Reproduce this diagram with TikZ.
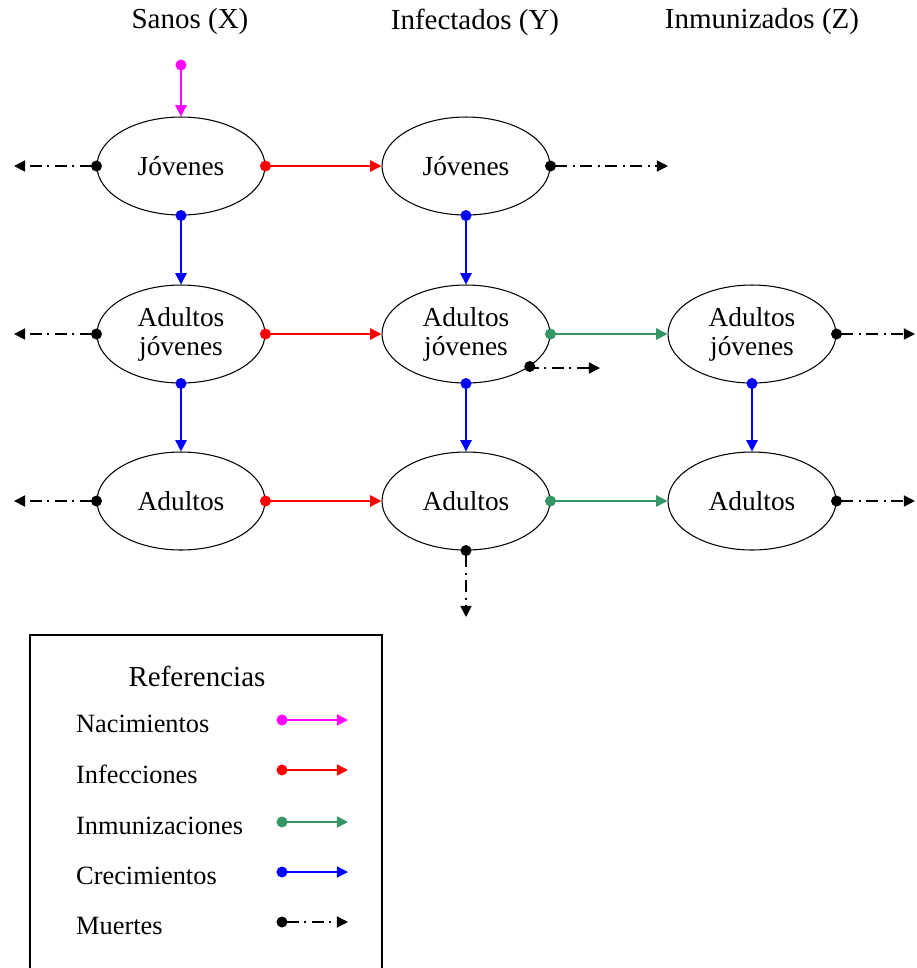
\documentclass[tikz,border=0pt]{standalone}
\usepackage{fontspec}
\setmainfont{Liberation Serif}
\usetikzlibrary{shapes.geometric,arrows.meta,positioning}
\definecolor{verde}{RGB}{52,150,100}
\definecolor{rosa}{RGB}{255,0,255}
\definecolor{rojo}{RGB}{255,0,0}
\definecolor{azul}{RGB}{0,0,255}

\tikzset{
  estado/.style={ellipse, draw, line width=0.6pt, minimum width=3.36cm, minimum height=1.96cm, inner sep=0pt, align=center, fill=white, font=\fontsize{15.6}{16.5}\selectfont},
  titulo/.style={font=\fontsize{16.5}{18}\selectfont},
  flujo/.style={line width=0.9pt, shorten <=-3.1pt, {Circle[length=6.2pt]}-{Triangle[length=6.4pt,width=6.4pt]}},
  nacim/.style={flujo, rosa},
  infec/.style={flujo, rojo},
  inmun/.style={flujo, verde},
  crec/.style={flujo, azul},
  muerte/.style={flujo, black, dash pattern=on 7pt off 3pt on 1.2pt off 3pt},
}

\begin{document}
\begin{tikzpicture}[x=0.02cm, y=-0.02cm, font=\fontsize{15}{16.5}\selectfont]
    \useasboundingbox (0,0) rectangle (917,968);

    % Titulos
    \node[titulo] (tx) at (190,22) {Sanos (X)};
    \node[titulo] (ty) at (475,22) {Infectados (Y)};
    \node[titulo] (tz) at (762,22) {Inmunizados (Z)};

    % Sanos
    \node[estado] (sj) at (181,166) {J\'ovenes};
    \node[estado] (saj) at (181,334) {Adultos\\j\'ovenes};
    \node[estado] (sa) at (181,501) {Adultos};

    % Infectados
    \node[estado] (ij) at (466,166) {J\'ovenes};
    \node[estado] (iaj) at (466,334) {Adultos\\j\'ovenes};
    \node[estado] (ia) at (466,501) {Adultos};

    % Inmunizados
    \node[estado] (maj) at (752,334) {Adultos\\j\'ovenes};
    \node[estado] (ma) at (752,501) {Adultos};

    % extremos libres
    \coordinate (nac) at (181,65);
    \coordinate (m1) at (14,166);
    \coordinate (m2) at (14,334);
    \coordinate (m3) at (14,501);
    \coordinate (m4) at (668,166);
    \coordinate (m5) at (600,368);
    \coordinate (m6) at (466,617);
    \coordinate (m7) at (915,334);
    \coordinate (m8) at (915,501);

    \draw[nacim] (nac) -- (sj);

    \draw[infec] (sj) -- (ij);
    \draw[infec] (saj) -- (iaj);
    \draw[infec] (sa) -- (ia);

    \draw[inmun] (iaj) -- (maj);
    \draw[inmun] (ia) -- (ma);

    \draw[crec] (sj) -- (saj);
    \draw[crec] (saj) -- (sa);
    \draw[crec] (ij) -- (iaj);
    \draw[crec] (iaj) -- (ia);
    \draw[crec] (maj) -- (ma);

    \draw[muerte] (sj.west) -- (m1);
    \draw[muerte] (saj.west) -- (m2);
    \draw[muerte] (sa.west) -- (m3);
    \draw[muerte] (ij.east) -- (m4);
    \draw[muerte] (iaj.-27) -- (m5 -| iaj.-27) -- (m5);
    \draw[muerte] (ia.south) -- (m6);
    \draw[muerte] (maj.east) -- (m7);
    \draw[muerte] (ma.east) -- (m8);

    % Referencias
    \draw[line width=0.6pt] (30,968) -- (30,635) -- (382,635) -- (382,968);
    \node[titulo] (ref) at (197,676) {Referencias};
    \foreach \y/\txt/\estilo [count=\i] in {724/Nacimientos/nacim, 774/Infecciones/infec, 826/Inmunizaciones/inmun, 876/Crecimientos/crec, 926/Muertes/muerte} {
        \node[anchor=west] (r\i) at (70,\y) {\txt};
        \coordinate (ra\i) at (282,\y-4);
        \coordinate (rb\i) at (348,\y-4);
        \draw[\estilo] (ra\i) -- (rb\i);
    }
\end{tikzpicture}
\end{document}
